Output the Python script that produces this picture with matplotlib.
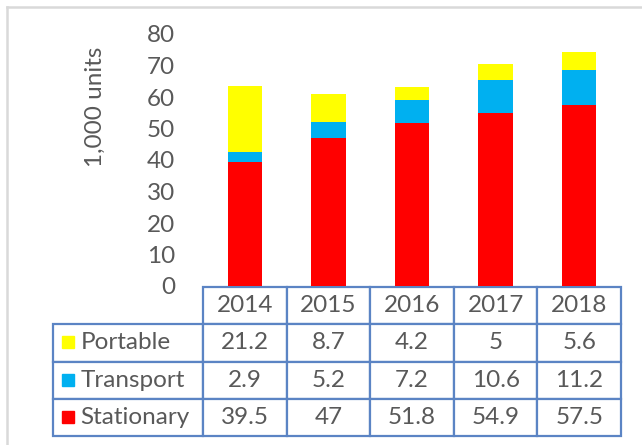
import matplotlib
matplotlib.use("Agg")
import matplotlib.pyplot as plt
from matplotlib.patches import Rectangle
from matplotlib.lines import Line2D
import numpy as np

# Données (1 000 unités)
years = ["2014", "2015", "2016", "2017", "2018"]
series_names = ["Portable", "Transport", "Stationary"]
stationary = [39.5, 47, 51.8, 54.9, 57.5]
transport = [2.9, 5.2, 7.2, 10.6, 11.2]
portable = [21.2, 8.7, 4.2, 5, 5.6]
portable_txt = ["21.2", "8.7", "4.2", "5", "5.6"]
transport_txt = ["2.9", "5.2", "7.2", "10.6", "11.2"]
stationary_txt = ["39.5", "47", "51.8", "54.9", "57.5"]
yticks = [0, 10, 20, 30, 40, 50, 60, 70, 80]

colors = {"Portable": "#FFFF00", "Transport": "#00B0F0", "Stationary": "#FF0000"}
text_color = "#595959"
edge_color = "#5B84C4"
font = "Lato"
fs = 17.5

W, H = 642, 445
fig = plt.figure(figsize=(W / 100, H / 100), dpi=100)

def fx(px):
    return px / W

def fy(py):
    return 1 - py / H

# zone du graphique (pixels)
left, right, top, bottom = 203, 621, 34, 286
ax = fig.add_axes([fx(left), fy(bottom), fx(right) - fx(left), fy(top) - fy(bottom)])

x = np.arange(len(years))
bw = 0.41
ax.bar(x, stationary, bw, color=colors["Stationary"])
ax.bar(x, transport, bw, bottom=stationary, color=colors["Transport"])
base = np.array(stationary) + np.array(transport)
ax.bar(x, portable, bw, bottom=base, color=colors["Portable"])

ax.set_xlim(-0.5, len(years) - 0.5)
ax.set_ylim(0, 80)
ax.set_yticks(yticks)
ax.set_yticklabels([str(v) for v in yticks], fontsize=fs, color=text_color, family=font)
ax.set_xticks([])
ax.tick_params(axis="y", length=0, pad=20)
for s in ax.spines.values():
    s.set_visible(False)

fig.text(fx(95), fy(107), "1,000 units", rotation=90, ha="center", va="center",
         fontsize=fs, color=text_color, family=font)

# tableau de données
cell_text = [[""] + years,
             ["Portable"] + portable_txt,
             ["Transport"] + transport_txt,
             ["Stationary"] + stationary_txt]
t_left, t_right, t_top, t_bottom = 53, 621, 287, 436
aw, ah = right - left, bottom - top
bbox = [(t_left - left) / aw, -(t_bottom - bottom) / ah,
        (t_right - t_left) / aw, (t_bottom - t_top) / ah]
lab_w = left - t_left
col_w = (right - left) / len(years)
tab = ax.table(cellText=cell_text, colWidths=[lab_w] + [col_w] * len(years),
               cellLoc="center", bbox=bbox)
tab.auto_set_font_size(False)
tab.set_fontsize(fs)
heights = [t_top, 322.5, 360.5, 398.5, t_bottom]
for (r, c), cell in tab.get_celld().items():
    cell.set_edgecolor(edge_color)
    cell.set_linewidth(1.6)
    cell.get_text().set_color(text_color)
    cell.get_text().set_family(font)
    if r == 0 and c == 0:
        cell.visible_edges = ""
    if c == 0 and r > 0:
        cell.get_text().set_ha("left")
        cell._loc = "left"
        cell.PAD = 27.7 / lab_w

# carrés de légende
for i, name in enumerate(series_names):
    y0 = heights[i + 1]
    y1 = heights[i + 2]
    yc = (y0 + y1) / 2
    fig.patches.append(Rectangle((fx(62), fy(yc + 6)), fx(12), fy(yc - 6) - fy(yc + 6),
                                 transform=fig.transFigure, color=colors[name]))

# cadre gris
fig.add_artist(Line2D([fx(7), 1], [fy(6.5), fy(6.5)], color="#D9D9D9", lw=1.8))
fig.add_artist(Line2D([fx(7), fx(7)], [fy(6.5), 0], color="#D9D9D9", lw=1.8))

fig.savefig("out.png", dpi=100)
